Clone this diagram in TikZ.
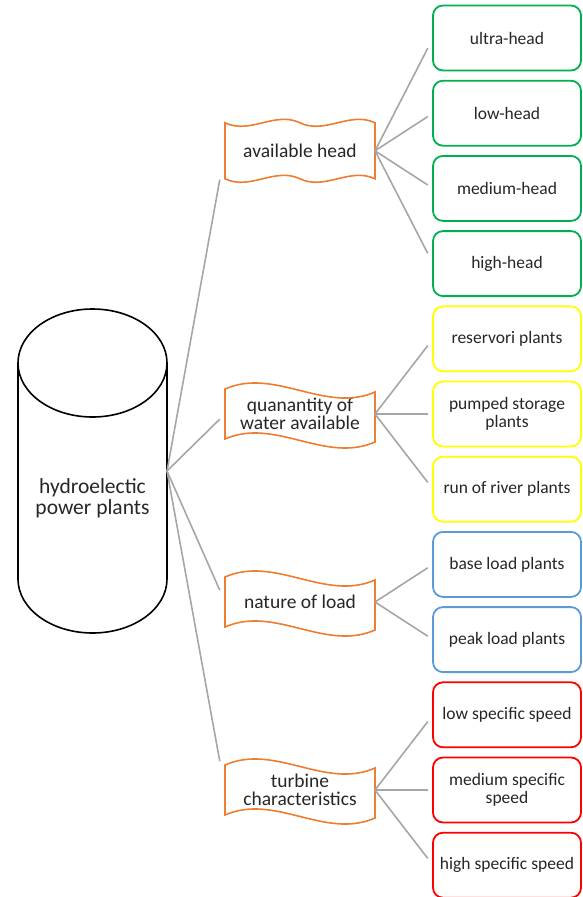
\documentclass[tikz,border=0pt]{standalone}
\usepackage{fontspec}
\setmainfont{Carlito}
\usepackage{tikz}
\usetikzlibrary{calc,positioning}

\definecolor{linegray}{RGB}{166,166,166}
\definecolor{flagorange}{RGB}{237,125,49}
\definecolor{headgreen}{RGB}{0,176,80}
\definecolor{wateryellow}{RGB}{255,255,0}
\definecolor{loadblue}{RGB}{91,155,213}
\definecolor{speedred}{RGB}{255,0,0}
\definecolor{textgray}{RGB}{38,38,38}

\tikzset{
    box/.style={draw=#1, line width=1.8pt, rounded corners=10pt, minimum width=148pt, minimum height=65pt, outer sep=0pt, align=center, text=textgray, font=\fontsize{17.5}{17.5}\selectfont},
    flagnode/.style={minimum width=150pt, minimum height=#1, outer sep=0pt, align=center, text=textgray, font=\fontsize{19.5}{18.5}\selectfont},
    link/.style={draw=linegray, line width=1.6pt},
    flagline/.style={draw=flagorange, line width=1.6pt},
    cylline/.style={draw=black, line width=1.6pt},
}

% wavy outlines round the flag nodes
\newcommand{\singlewave}[1]{%
    \draw[flagline] (#1.north west) .. controls +(50pt,22pt) and +(-50pt,-22pt) .. ([yshift=-3pt]#1.north east)
        -- ([yshift=-3pt]#1.south east) .. controls +(-50pt,-22pt) and +(50pt,22pt) .. (#1.south west) -- cycle;}
\newcommand{\doublewave}[1]{%
    \draw[flagline] (#1.north west) .. controls +(25pt,-12pt) and +(-25pt,12pt) .. (#1.north)
        .. controls +(25pt,-12pt) and +(-25pt,12pt) .. (#1.north east)
        -- (#1.south east) .. controls +(-25pt,12pt) and +(25pt,-12pt) .. (#1.south)
        .. controls +(-25pt,12pt) and +(25pt,-12pt) .. (#1.south west) -- cycle;}

\begin{document}
\begin{tikzpicture}[x=1pt,y=-1pt,node distance=10.2pt]
    \useasboundingbox (0,0) rectangle (582,897);
    % cylinder
    \node[minimum width=149pt, minimum height=324pt, outer sep=0pt] (hep) at (92.5,471) {};
    \draw[cylline] ([yshift=-54pt]hep.north west) -- ([yshift=54pt]hep.south west) arc[start angle=180, end angle=360, x radius=74.5pt, y radius=54pt] -- ([yshift=-54pt]hep.north east);
    \draw[cylline] ([yshift=-54pt]hep.north) ellipse [x radius=74.5pt, y radius=54pt];
    \node[text=textgray, align=center, font=\fontsize{21.5}{21}\selectfont] (heptext) at ([yshift=-27pt]hep.center) {hydroelectic\\power plants};
    %
    \node[box=headgreen] (uh) at (507,38) {ultra-head};
    \node[box=headgreen, below=of uh] (lh) {low-head};
    \node[box=headgreen, below=of lh] (mh) {medium-head};
    \node[box=headgreen, below=of mh] (hh) {high-head};
    \node[box=wateryellow, below=of hh] (rp) {reservori plants};
    \node[box=wateryellow, below=of rp] (pu) {pumped storage\\plants};
    \node[box=wateryellow, below=of pu] (rr) {run of river plants};
    \node[box=loadblue, below=of rr] (bl) {base load plants};
    \node[box=loadblue, below=of bl] (pl) {peak load plants};
    \node[box=speedred, below=of pl] (ls) {low specific speed};
    \node[box=speedred, below=of ls] (ms) {medium specific\\speed};
    \node[box=speedred, below=of ms] (hs) {high specific speed};
    %
    \coordinate (ah) at ($(lh.west)!0.5!(mh.west)$);
    \coordinate (nl) at ($(bl.west)!0.5!(pl.west)$);
    \node[flagnode=56pt, left=58pt of ah] (fa) {available head};
    \node[flagnode=50pt, left=58pt of pu] (fq) {quanantity of\\water available};
    \node[flagnode=50pt, left=58pt of nl] (fn) {nature of load};
    \node[flagnode=50pt, left=58pt of ms] (ft) {turbine\\characteristics};
    \doublewave{fa}
    \singlewave{fq}
    \singlewave{fn}
    \singlewave{ft}
    %
    \foreach \b in {uh,lh,mh,hh} \draw[link] (fa.east) -- ($(fa.east)!0.91!(\b.west)$);
    \foreach \b in {rp,pu,rr} \draw[link] (fq.east) -- ($(fq.east)!0.91!(\b.west)$);
    \foreach \b in {bl,pl} \draw[link] (fn.east) -- ($(fn.east)!0.91!(\b.west)$);
    \foreach \b in {ls,ms,hs} \draw[link] (ft.east) -- ($(ft.east)!0.91!(\b.west)$);
    \foreach \f in {fa,fq,fn,ft} \draw[link] (hep.east) -- ($(hep.east)!0.91!(\f.west)$);
\end{tikzpicture}
\end{document}
